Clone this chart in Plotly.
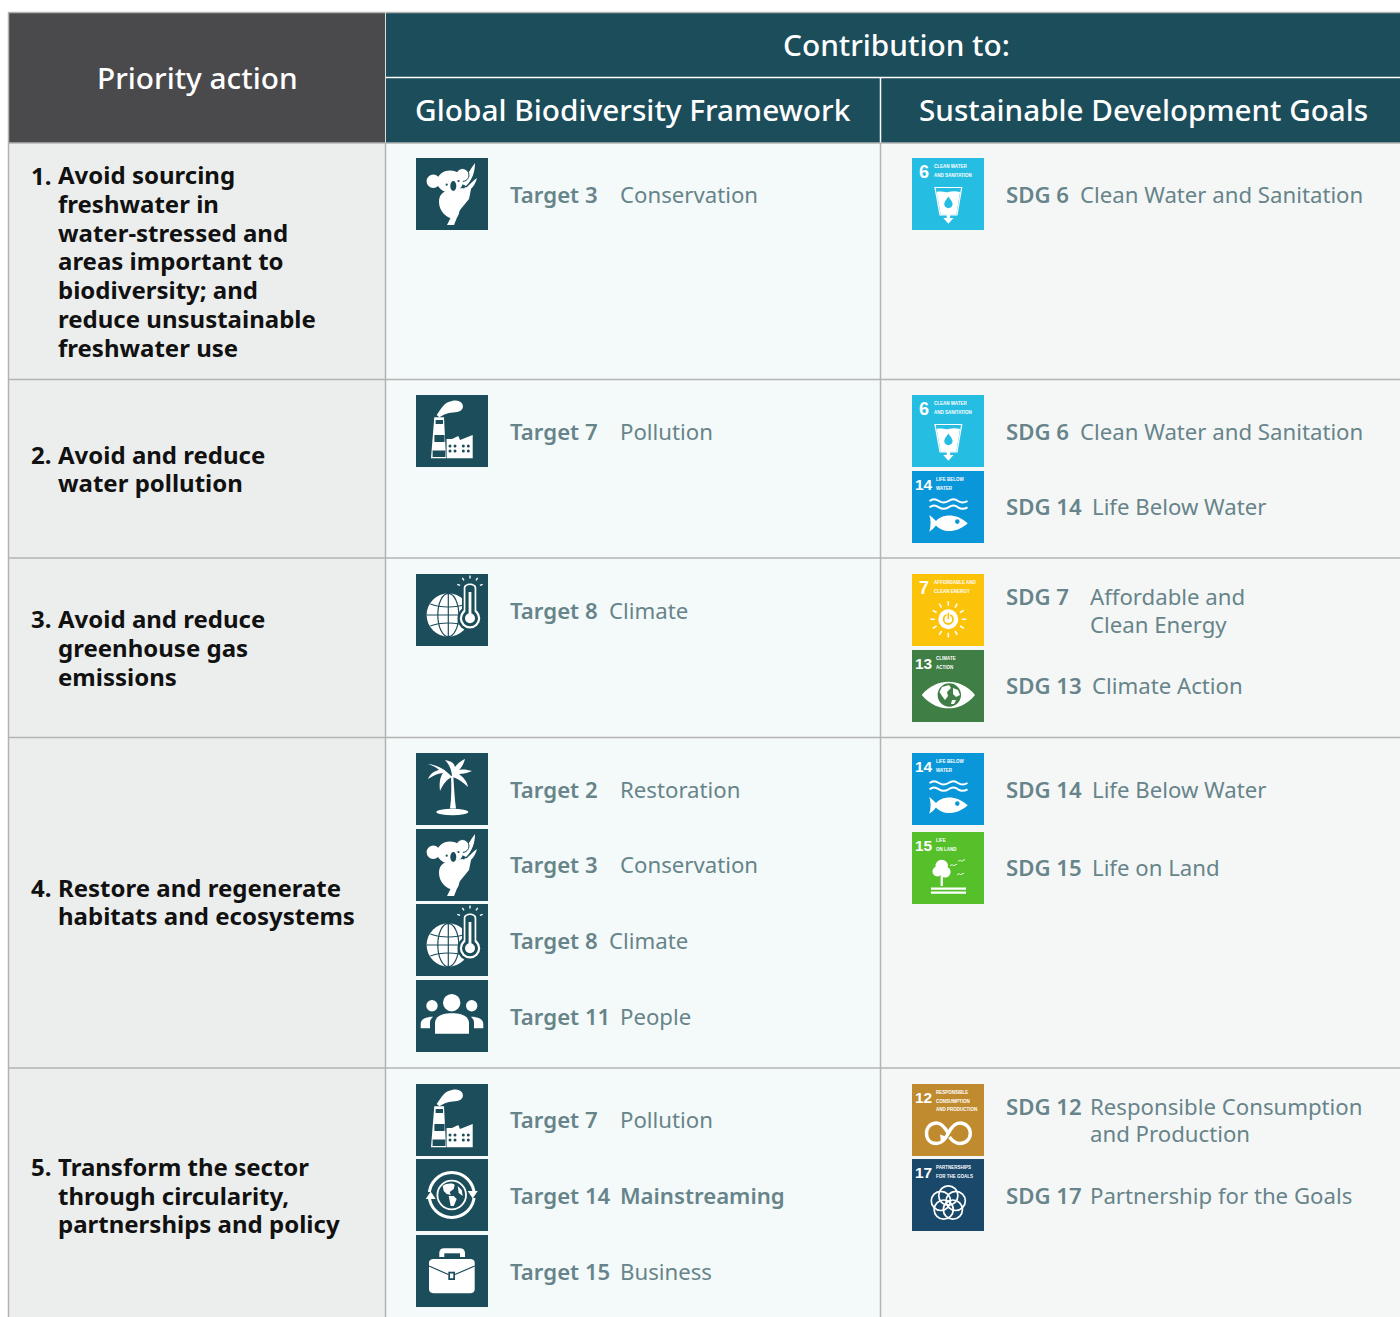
import math, re
import plotly.graph_objects as go

# ---------- content ----------
header_left = "Priority action"
header_top = "Contribution to:"
header_gbf = "Global Biodiversity Framework"
header_sdg = "Sustainable Development Goals"

action_numbers = ["1.", "2.", "3.", "4.", "5."]
action_lines = [
    ["Avoid sourcing", "freshwater in", "water-stressed and", "areas important to",
     "biodiversity; and", "reduce unsustainable", "freshwater use"],
    ["Avoid and reduce", "water pollution"],
    ["Avoid and reduce", "greenhouse gas", "emissions"],
    ["Restore and regenerate", "habitats and ecosystems"],
    ["Transform the sector", "through circularity,", "partnerships and policy"],
]
target_labels = ["Target 3", "Target 7", "Target 8", "Target 2", "Target 3", "Target 8", "Target 11",
                 "Target 7", "Target 14", "Target 15"]
target_names = ["Conservation", "Pollution", "Climate", "Restoration", "Conservation", "Climate", "People",
                "Pollution", "Mainstreaming", "Business"]
target_icons = ["koala", "factory", "climate", "palm", "koala", "climate", "people",
                "factory", "cycle", "case"]
sdg_labels = ["SDG 6", "SDG 6", "SDG 14", "SDG 7", "SDG 13", "SDG 14", "SDG 15", "SDG 12", "SDG 17"]
sdg_names = [["Clean Water and Sanitation"], ["Clean Water and Sanitation"], ["Life Below Water"],
             ["Affordable and", "Clean Energy"], ["Climate Action"], ["Life Below Water"], ["Life on Land"],
             ["Responsible Consumption", "and Production"], ["Partnership for the Goals"]]
sdg_numbers = ["6", "6", "14", "7", "13", "14", "15", "12", "17"]
sdg_tile_text = {
    "6": ["CLEAN WATER", "AND SANITATION"], "14": ["LIFE BELOW", "WATER"],
    "7": ["AFFORDABLE AND", "CLEAN ENERGY"], "13": ["CLIMATE", "ACTION"],
    "15": ["LIFE", "ON LAND"], "12": ["RESPONSIBLE", "CONSUMPTION", "AND PRODUCTION"],
    "17": ["PARTNERSHIPS", "FOR THE GOALS"],
}

# ---------- layout and style ----------
W, H = 1400, 1317
FONT = "Noto Sans"
NARROW = "Liberation Sans"
TEAL, DARK = "#1c4d5b", "#4a4a4c"
LEFT_BG, GBF_BG, SDG_BG = "#eceeed", "#f4faf9", "#f5f7f6"
GRID, TXT, MUTED = "#b2b4b3", "#111111", "#67848a"
SDG_COL = {"6": "#26bde2", "14": "#0a97d9", "7": "#fcc30b", "13": "#3f7e44",
           "15": "#56c02b", "12": "#bf8b2e", "17": "#19486a"}
ROW_Y = [143, 379.5, 558, 737.5, 1068, H + 5]
COL_X = [8.5, 385.5, 880.5, W]
ACTION_Y = [[176, 204.5, 233.5, 262, 291, 320, 348.5], [455.5, 483.5], [619.5, 648.5, 677.5],
            [888.5, 916.5], [1167.5, 1196.5, 1224.5]]
TARGET_TOP = [158, 395, 574, 753, 829, 904, 980, 1084, 1159, 1235]
TARGET_Y = [195, 432, 611, 790, 865, 941, 1017, 1120, 1196, 1272]
TARGET_NAME_X = [620, 620, 609, 620, 620, 609, 620, 620, 620, 620]
SDG_TOP = [158, 395, 471, 574, 650, 753, 832, 1084, 1159]
SDG_Y = [[195], [432], [507], [597, 625], [686], [790], [868], [1107, 1134], [1196]]
SDG_NAME_X = [1079, 1079, 1091, 1089, 1091, 1091, 1091, 1089, 1089]
ACTION_SIZE, BODY_SIZE, HEAD_SIZE = 24, 22.2, 29.8
DX, DY = -1, -1

shapes, notes = [], []


def rect(x0, y0, x1, y1, fill):
    shapes.append(dict(type="rect", x0=x0, y0=y0, x1=x1, y1=y1, fillcolor=fill, line_width=0, layer="above"))


def hv(x0, y0, x1, y1, color=GRID, w=1.5):
    shapes.append(dict(type="line", x0=x0, y0=y0, x1=x1, y1=y1, line=dict(color=color, width=w), layer="above"))


def tx(x, y, s, size, color=TXT, weight=400, anchor="left", family=FONT):
    notes.append(dict(x=x + DX, y=y + DY, text=s, showarrow=False, xanchor=anchor, yanchor="middle",
                      font=dict(family=family, size=size, color=color, weight=weight), borderpad=0))


def block(x, ys, lines, size, color, weight):
    """Several lines as one text; the box font sets the line gap, the inner span the glyph size."""
    gap = (ys[-1] - ys[0]) / (len(ys) - 1)
    body = "<br>".join(f'<span style="font-size:{size}px">{s}</span>' for s in lines)
    notes.append(dict(x=x + DX, y=sum(ys) / len(ys) + DY, text=body, showarrow=False, xanchor="left",
                      yanchor="middle", align="left", borderpad=0,
                      font=dict(family=FONT, size=gap / 1.3, color=color, weight=weight)))


def shift(ox, oy, d):
    out, i = [], 0
    for t in re.findall(r"[MLCQZ]|-?\d+\.?\d*", d):
        if t in "MLCQZ":
            out.append(t)
        else:
            out.append(f"{float(t) + (ox if i % 2 == 0 else oy):.2f}")
            i += 1
    return " ".join(out)


def fill(ox, oy, d, c="white"):
    shapes.append(dict(type="path", path=shift(ox, oy, d), fillcolor=c, line_width=0, layer="above"))


def stroke(ox, oy, d, c="white", w=1.5):
    shapes.append(dict(type="path", path=shift(ox, oy, d), line=dict(color=c, width=w), layer="above"))


def circ(ox, oy, cx, cy, rx, ry=None, c="white", lc=None, lw=0):
    ry = rx if ry is None else ry
    shapes.append(dict(type="circle", x0=ox + cx - rx, x1=ox + cx + rx, y0=oy + cy - ry, y1=oy + cy + ry,
                       fillcolor=c, line=dict(color=lc or "rgba(0,0,0,0)", width=lw), layer="above"))


# ---------- glyphs, drawn in a 72 x 72 box ----------
def koala(o, p):
    fill(o, p, "M31 67 L38 67 L44 52 L53 41 L55 31 L49 29 L41 47 Z")
    fill(o, p, "M46 26 C 50 18 54 12 59 5 C 59 14 56 22 50 28 Z")
    fill(o, p, "M50 30 C 54 26 58 22 61 20 C 59 27 56 31 51 34 Z")
    circ(o, p, 46.5, 17, 6.5, c="white", lc=TEAL, lw=1)
    circ(o, p, 17.3, 23.3, 6.7)
    fill(o, p, "M23 44 C 23 37 27 33 32 33 L46 30 L54 32 L53 38 L46 41 L42 46 C 43 50 44 54 42 58 L38 61 C 30 60 23 53 23 44 Z")
    circ(o, p, 34, 23.5, 13, 11)
    circ(o, p, 37.3, 28, 3, 5, c=TEAL)
    circ(o, p, 30.7, 26.7, 1.1, c=TEAL)
    circ(o, p, 42.5, 23, 1.1, c=TEAL)


def factory(o, p):
    fill(o, p, "M20.7 20 C 25 14 28 7 36 6 C 44 4 48 9 46.7 13 C 45 18 38 17 33 18 C 28 19 26 21 23.3 22.3 Z")
    fill(o, p, "M18.3 22.3 L28 22.3 L30 63.3 L15 63.3 Z")
    for a, b, c, d in [(19.6, 27, 25, 29), (18.4, 28.6, 40, 47), (16.6, 29.4, 55.5, 62)]:
        rect(o + a, p + c, o + b, p + d, TEAL)
    fill(o, p, "M30.6 44 L36 44 L42.3 41 L44 45 L56.7 40 L56.7 63.3 L30.6 63.3 Z")
    for y in (51, 56):
        for x in (34, 39, 47.3, 52.3):
            circ(o, p, x, y, 1.5, c=TEAL)


def climate(o, p):
    cx, cy, r = 32.3, 41, 21.7
    circ(o, p, cx, cy, r)
    circ(o, p, cx, cy, 10.5, r, c="rgba(0,0,0,0)", lc=TEAL, lw=1.2)
    hv(o + cx, p + cy - r, o + cx, p + cy + r, TEAL, 1.2)
    hv(o + cx - r, p + cy, o + cx + r, p + cy, TEAL, 1.2)
    stroke(o, p, f"M{cx-18} {cy-11} C {cx-8} {cy-7} {cx+8} {cy-7} {cx+18} {cy-11}", TEAL, 1.2)
    stroke(o, p, f"M{cx-18} {cy+11} C {cx-8} {cy+7} {cx+8} {cy+7} {cx+18} {cy+11}", TEAL, 1.2)
    bx, by = 54, 44.3
    circ(o, p, bx, by, 12.5, c=TEAL)
    rect(o + bx - 8, p + 9, o + bx + 8, p + by, TEAL)
    circ(o, p, bx, by, 10.2)
    fill(o, p, f"M{bx-6.3} {by} L{bx-6.3} 14 C {bx-6.3} 8 {bx+6.3} 8 {bx+6.3} 14 L{bx+6.3} {by} Z")
    fill(o, p, f"M{bx-4.6} {by} L{bx-4.6} 14 C {bx-4.6} 10 {bx+4.6} 10 {bx+4.6} 14 L{bx+4.6} {by} Z", TEAL)
    circ(o, p, bx, by, 8, c=TEAL)
    circ(o, p, bx, by, 5)
    rect(o + bx - 1.4, p + 18, o + bx + 1.4, p + by, "white")
    for a in (-160, -125, -90, -55, -20):
        ca, sa = math.cos(math.radians(a)), math.sin(math.radians(a))
        stroke(o, p, f"M{bx+10.5*ca:.1f} {15+10.5*sa:.1f} L{bx+13.5*ca:.1f} {15+13.5*sa:.1f}", "white", 1.4)


def palm(o, p):
    fill(o, p, "M34 55.5 C 35.5 45 35.5 33 35 23 L37.3 23 C 38 33 38.5 45 40 55.5 Z")
    circ(o, p, 36.3, 59, 16, 3.3)
    fill(o, p, "M36 24 C 30 17 22 12 12 11 C 18 13 21 15 23 17 C 18 18 14 21 12 26 C 18 22 23 20 27 20 C 24 24 23 30 24 38 C 27 31 31 26 36 24 Z")
    fill(o, p, "M36 24 C 36 17 33 11 29 7 C 35 8 38 10 39 14 C 42 10 45 8 49 6 C 48 10 46 14 43 17 C 47 16 52 17 56 18 C 52 20 47 21 43 21 C 47 24 51 28 52 34 C 47 29 41 25 36 24 Z")


def people(o, p):
    circ(o, p, 35.7, 22.7, 8.7)
    circ(o, p, 16, 25.7, 5.7)
    circ(o, p, 55.7, 25.7, 5.7)
    fill(o, p, "M19 53.7 L53 53.7 L53 43 C 53 36 45 33.3 36 33.3 C 27 33.3 19 36 19 43 Z")
    fill(o, p, "M4.7 48.3 L14 48.3 L14 42 C 14 40 15.5 38 17.3 36.7 C 10 36.7 4.7 39 4.7 44 Z")
    fill(o, p, "M67.3 48.3 L58 48.3 L58 42 C 58 40 56.5 38 54.7 36.7 C 62 36.7 67.3 39 67.3 44 Z")


def cycle(o, p):
    cx, cy = 35.7, 36
    circ(o, p, cx, cy, 22.5, c=TEAL, lc="white", lw=3)
    rect(o + cx - 26, p + cy - 3, o + cx - 18, p + cy + 4, TEAL)
    rect(o + cx + 18, p + cy - 4, o + cx + 26, p + cy + 3, TEAL)
    fill(o, p, f"M{cx-26} {cy+4} L{cx-16} {cy+4} L{cx-21} {cy-3.5} Z")
    fill(o, p, f"M{cx+16} {cy-4} L{cx+26} {cy-4} L{cx+21} {cy+3.5} Z")
    circ(o, p, cx, cy, 14.3, c=TEAL, lc="white", lw=1.8)
    fill(o, p, f"M{cx-9} {cy-9} C {cx-5} {cy-12} {cx+1} {cy-12} {cx+3} {cy-10} L{cx+2} {cy-6} L{cx-2} {cy-3} L{cx-1} {cy} L{cx-5} {cy-1} L{cx-8} {cy-4} Z")
    fill(o, p, f"M{cx-3} {cy+1} L{cx+2} {cy+1} L{cx+5} {cy+4} L{cx+2} {cy+11} L{cx-1} {cy+11} L{cx-2} {cy+6} Z")
    fill(o, p, f"M{cx+6} {cy-9} L{cx+10} {cy-5} L{cx+11} {cy+1} L{cx+7} {cy-2} Z")


def case(o, p):
    fill(o, p, "M23.3 22 L23.3 18 C 23.3 15 25 13.3 28 13.3 L44 13.3 C 47 13.3 49 15 49 18 L49 22 Z")
    rect(o + 28.3, p + 18.3, o + 44, p + 22.5, TEAL)
    fill(o, p, "M13 28 C 13 25 15 24 18 24 L54 24 C 57 24 58.7 25 58.7 28 L58.7 54 C 58.7 57 57 58.3 54 58.3 L18 58.3 C 15 58.3 13 57 13 54 Z")
    stroke(o, p, "M13 31 L32.3 39.5", TEAL, 1.2)
    stroke(o, p, "M58.7 31 L39 39.5", TEAL, 1.2)
    rect(o + 32.3, p + 36.7, o + 39, p + 45, TEAL)
    rect(o + 34, p + 38.5, o + 37.3, p + 43.2, "white")


GLYPH = dict(koala=koala, factory=factory, climate=climate, palm=palm, people=people, cycle=cycle, case=case)


def g6(o, p, c):
    stroke(o, p, "M23 29.5 L49.7 29.5 L45 57 L28 57 Z", "white", 1.2)
    fill(o, p, "M24.6 34 C 29 32.5 33 35 36.5 34 C 40 33 44 33 48 34 L44.3 56.7 L28.7 56.7 Z")
    fill(o, p, "M36.4 38.5 C 38 41 40.6 43.5 40.6 46 C 40.6 51.5 32.2 51.5 32.2 46 C 32.2 43.5 34.8 41 36.4 38.5 Z", c)
    rect(o + 34.7, p + 56, o + 38.1, p + 61, "white")
    fill(o, p, "M31.3 60 L41.5 60 L36.4 65.7 Z")


def g14(o, p, c):
    for y in (30, 36.3):
        stroke(o, p, f"M17.5 {y} C 21 {y-2.4} 23 {y-2.4} 27 {y} C 30 {y+2} 33 {y+2} 36.5 {y} C 40 {y-2.4} 43 {y-2.4} 46 {y} C 49 {y+2} 52 {y+2} 55.5 {y}", "white", 2)
    fill(o, p, "M17.3 44 C 20 46 22 48 24 50 C 30 43 44 41.5 55.7 52.3 C 44 63 30 61.5 24 54.5 C 22 57 20 59 17.3 60.7 C 19 55 19 49 17.3 44 Z")
    circ(o, p, 45.3, 50.6, 2.3, c=c)


def g7(o, p, c):
    cx, cy = 36.3, 45.3
    circ(o, p, cx, cy, 10)
    circ(o, p, cx, cy, 4.7, c="rgba(0,0,0,0)", lc=c, lw=1.8)
    hv(o + cx, p + cy - 6.5, o + cx, p + cy, "white", 3.4)
    hv(o + cx, p + cy - 6.5, o + cx, p + cy, c, 1.6)
    for i in range(12):
        a = math.radians(i * 30)
        stroke(o, p, f"M{cx+13.5*math.cos(a):.1f} {cy+13.5*math.sin(a):.1f} L{cx+18*math.cos(a):.1f} {cy+18*math.sin(a):.1f}", "white", 1.5)


def g13(o, p, c):
    fill(o, p, "M9.7 45 C 18 35 28 31.7 36.3 31.7 C 45 31.7 55 35 63 45 C 55 55 45 58.3 36.3 58.3 C 28 58.3 18 55 9.7 45 Z")
    circ(o, p, 37.3, 45, 11.7, c=c)
    fill(o, p, "M30 37 L37 35 L39 38 L35 42 L36 46 L33 50 L30 46 L27.5 42 Z")
    fill(o, p, "M41 38 L46 40 L48 45 L44 47 L41 44 Z")
    fill(o, p, "M40 50 L44 50 L42 54 L39 54 Z")


def g15(o, p, c):
    circ(o, p, 29.7, 34, 6.2)
    circ(o, p, 25.5, 39.5, 5)
    circ(o, p, 33, 40, 5.6)
    rect(o + 28.6, p + 44, o + 30.9, p + 54, "white")
    for y in (56.6, 60.6):
        rect(o + 19, p + y - 1.1, o + 54, p + y + 1.1, "white")
    for x, y in ((38, 34), (46, 29.5), (45, 43)):
        stroke(o, p, f"M{x} {y} C {x+2} {y-2} {x+3} {y-1} {x+4} {y} C {x+5} {y-1.6} {x+6} {y-1.6} {x+7} {y-1.6}", "white", 1)


def g12(o, p, c):
    stroke(o, p, "M36.3 49.3 C 32 42 29 39 24.7 39 C 18 39 14.5 44 14.5 49.3 C 14.5 55 18 59.5 24.7 59.5 C 30 59.5 33 56 36.3 49.3 C 40 42 43 39 48 39 C 54 39 58.3 44 58.3 49.3 C 58.3 55 54 59.5 48 59.5 C 43 59.5 40 56.5 37.5 53", "white", 3.4)
    fill(o, p, "M28 50.5 L35 53 L29 58 Z")


def g17(o, p, c):
    for i in range(5):
        a = math.radians(-90 + i * 72)
        circ(o, p, 36.3 + 7.8 * math.cos(a), 44.3 + 7.8 * math.sin(a), 9.6, c="rgba(0,0,0,0)", lc="white", lw=1.7)


SDG_GLYPH = {"6": g6, "14": g14, "7": g7, "13": g13, "15": g15, "12": g12, "17": g17}

# ---------- table body ----------
L, M1, M2 = COL_X[0], COL_X[1], COL_X[2]
rect(L, ROW_Y[0], M1, H, LEFT_BG)
rect(M1, ROW_Y[0], M2, H, GBF_BG)
rect(M2, ROW_Y[0], W, H, SDG_BG)
rect(L, 12, M1, ROW_Y[0], DARK)
rect(M1 + 0.5, 12, W, ROW_Y[0], TEAL)
hv(L, 12.5, W, 12.5)
hv(M1 + 0.5, 77.5, W, 77.5, "white", 1.5)
hv(M2, 77.5, M2, ROW_Y[0], "white", 1.5)
hv(M1, 12, M1, ROW_Y[0], "#d8dddd", 1)
for y in ROW_Y[:-1]:
    hv(L, y, W, y)
for x in COL_X[:3]:
    hv(x, ROW_Y[0], x, H)
hv(L, 12, L, ROW_Y[0])

tx(198, 78, header_left, HEAD_SIZE, "white", 500, "center")
tx(897.5, 45.5, header_top, HEAD_SIZE, "white", 500, "center")
tx(633.5, 110, header_gbf, HEAD_SIZE, "white", 500, "center")
tx(1144.5, 110, header_sdg, 29.65, "white", 500, "center")

for n, lines, ys in zip(action_numbers, action_lines, ACTION_Y):
    tx(31, ys[0], n, ACTION_SIZE, TXT, 700)
    block(58, ys, lines, ACTION_SIZE, TXT, 700)

for i, (lab, nm, ic) in enumerate(zip(target_labels, target_names, target_icons)):
    rect(416, TARGET_TOP[i], 488, TARGET_TOP[i] + 72, TEAL)
    GLYPH[ic](416, TARGET_TOP[i])
    tx(510, TARGET_Y[i], lab, BODY_SIZE, MUTED, 600)
    tx(TARGET_NAME_X[i], TARGET_Y[i], nm, BODY_SIZE, MUTED, 600 if nm == "Mainstreaming" else 400)

for i, (lab, names, num) in enumerate(zip(sdg_labels, sdg_names, sdg_numbers)):
    top = SDG_TOP[i]
    rect(912, top, 984, top + 72, SDG_COL[num])
    SDG_GLYPH[num](912, top, SDG_COL[num])
    one = len(num) == 1
    tx(912 + 12.5, top + 14.7, num, 18 if one else 15.5, "white", 700, "center", NARROW)
    lx = 912 + (21.7 if one else 24)
    for j, s in enumerate(sdg_tile_text[num]):
        tx(lx, top + 9.7 + j * 8.6, s, 4.5, "white", 700, "left", NARROW)
    tx(1006, SDG_Y[i][0], lab, BODY_SIZE, MUTED, 600)
    if len(names) > 1:
        block(SDG_NAME_X[i] + 1, SDG_Y[i], names, BODY_SIZE, MUTED, 400)
    else:
        tx(SDG_NAME_X[i] + 1, SDG_Y[i][0], names[0], BODY_SIZE, MUTED, 400)

fig = go.Figure()
fig.update_layout(
    width=W, height=H, margin=dict(l=0, r=0, t=0, b=0), paper_bgcolor="white", plot_bgcolor="white",
    xaxis=dict(range=[0, W], visible=False, fixedrange=True),
    yaxis=dict(range=[H, 0], visible=False, fixedrange=True),
    shapes=shapes, annotations=notes, showlegend=False,
)
fig.write_html("out.html", config=dict(displayModeBar=False),
               post_script="document.body.style.margin='0';document.documentElement.style.overflow='hidden';")
